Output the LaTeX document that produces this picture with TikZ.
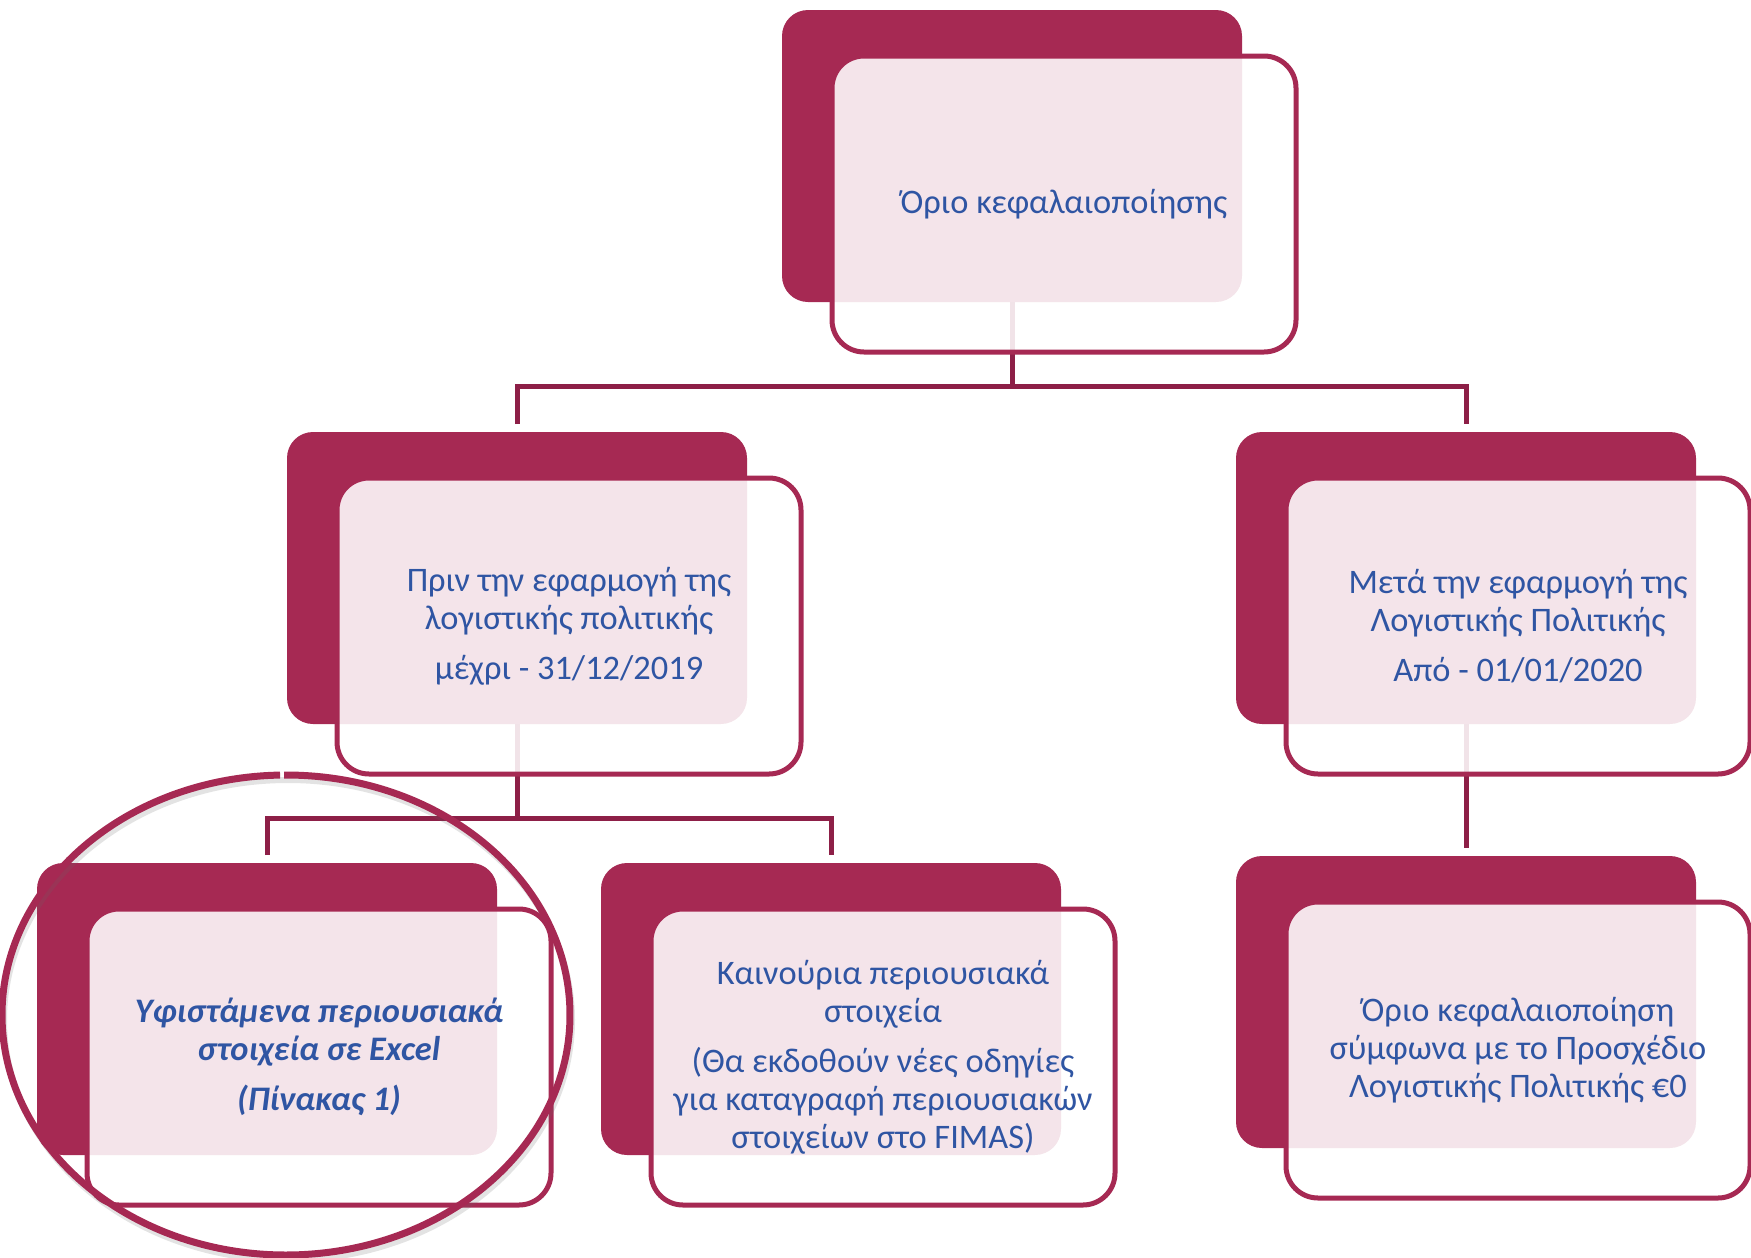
\documentclass[tikz,border=0pt]{standalone}
\usepackage{fontspec}
\setmainfont{Carlito}
\usetikzlibrary{calc}
\definecolor{dark}{RGB}{166,41,83}
\definecolor{connc}{RGB}{141,31,71}
\definecolor{txtblue}{RGB}{47,85,163}
\begin{document}
\begin{tikzpicture}[x=0.5pt,y=-0.5pt,
  darkbox/.style={fill=dark, rounded corners=13pt, minimum width=230pt, minimum height=146pt, inner sep=0pt, outer sep=0pt},
  outbox/.style={draw=dark, line width=2.5pt, fill=white, fill opacity=0.88, rounded corners=16pt, minimum width=232pt, minimum height=148pt, inner sep=0pt, outer sep=0pt},
  txt/.style={text=txtblue, font=\fontsize{17.2}{19}\selectfont, align=center, inner sep=0pt},
  conn/.style={draw=connc, line width=2.5pt}]
\useasboundingbox (0,0) rectangle (1751,1258);
% dark boxes
\node[darkbox] (topd) at (1012,156) {};
\node[darkbox] (midLd) at (517,578) {};
\node[darkbox] (midRd) at (1466,578) {};
\node[darkbox] (botLd) at (267,1009) {};
\node[darkbox] (botMd) at (831,1009) {};
\node[darkbox] (botRd) at (1466,1002) {};
% connectors (behind the outline boxes)
\draw[conn] (topd.south) -- ++(0,84);
\draw[conn] (midLd.north) ++(0,-8) |- ($(topd.south)+(0,84)$) -| ($(midRd.north)+(0,-8)$);
\draw[conn] (midLd.south) -- ++(0,94);
\draw[conn] (botLd.north) ++(0,-8) |- ($(midLd.south)+(0,94)$) -| ($(botMd.north)+(0,-8)$);
\draw[conn] (midRd.south) -- ($(botRd.north)+(0,-8)$);
% outline boxes
\node[outbox] (topo) at ($(topd)+(52,48)$) {};
\node[outbox] (midLo) at ($(midLd)+(52,48)$) {};
\node[outbox] (midRo) at ($(midRd)+(52,48)$) {};
\node[outbox] (botLo) at ($(botLd)+(52,48)$) {};
\node[outbox] (botMo) at ($(botMd)+(52,48)$) {};
\node[outbox] (botRo) at ($(botRd)+(52,48)$) {};
% texts
\node[txt] (topt) at (topo.center) {Όριο κεφαλαιοποίησης};
\node[txt] (midLt) at (midLo.center) {Πριν την εφαρμογή της\\λογιστικής πολιτικής\\[6pt]μέχρι - 31/12/2019};
\node[txt] (midRt) at (midRo.center) {Μετά την εφαρμογή της\\Λογιστικής Πολιτικής\\[6pt]Από - 01/01/2020};
\node[txt, font=\fontsize{17.2}{19}\selectfont\bfseries\itshape] (botLt) at (botLo.center) {Υφιστάμενα περιουσιακά\\στοιχεία σε Excel\\[6pt](Πίνακας 1)};
\node[txt] (botMt) at (botMo.center) {Καινούρια περιουσιακά\\στοιχεία\\[6pt](Θα εκδοθούν νέες οδηγίες\\για καταγραφή περιουσιακών\\στοιχείων στο FIMAS)};
\node[txt] (botRt) at (botRo.center) {Όριο κεφαλαιοποίηση\\σύμφωνα με το Προσχέδιο\\Λογιστικής Πολιτικής €0};
% highlight ellipse
\coordinate (circ) at (286,1015);
\draw[black!60, line width=3pt, opacity=0.18] ($(circ)+(2,5)$) ellipse [x radius=142pt, y radius=120pt];
\draw[dark, line width=3.5pt] (circ) ++(91.2:142pt and 120pt) arc [start angle=91.2, end angle=450.4, x radius=142pt, y radius=120pt];
\end{tikzpicture}
\end{document}
